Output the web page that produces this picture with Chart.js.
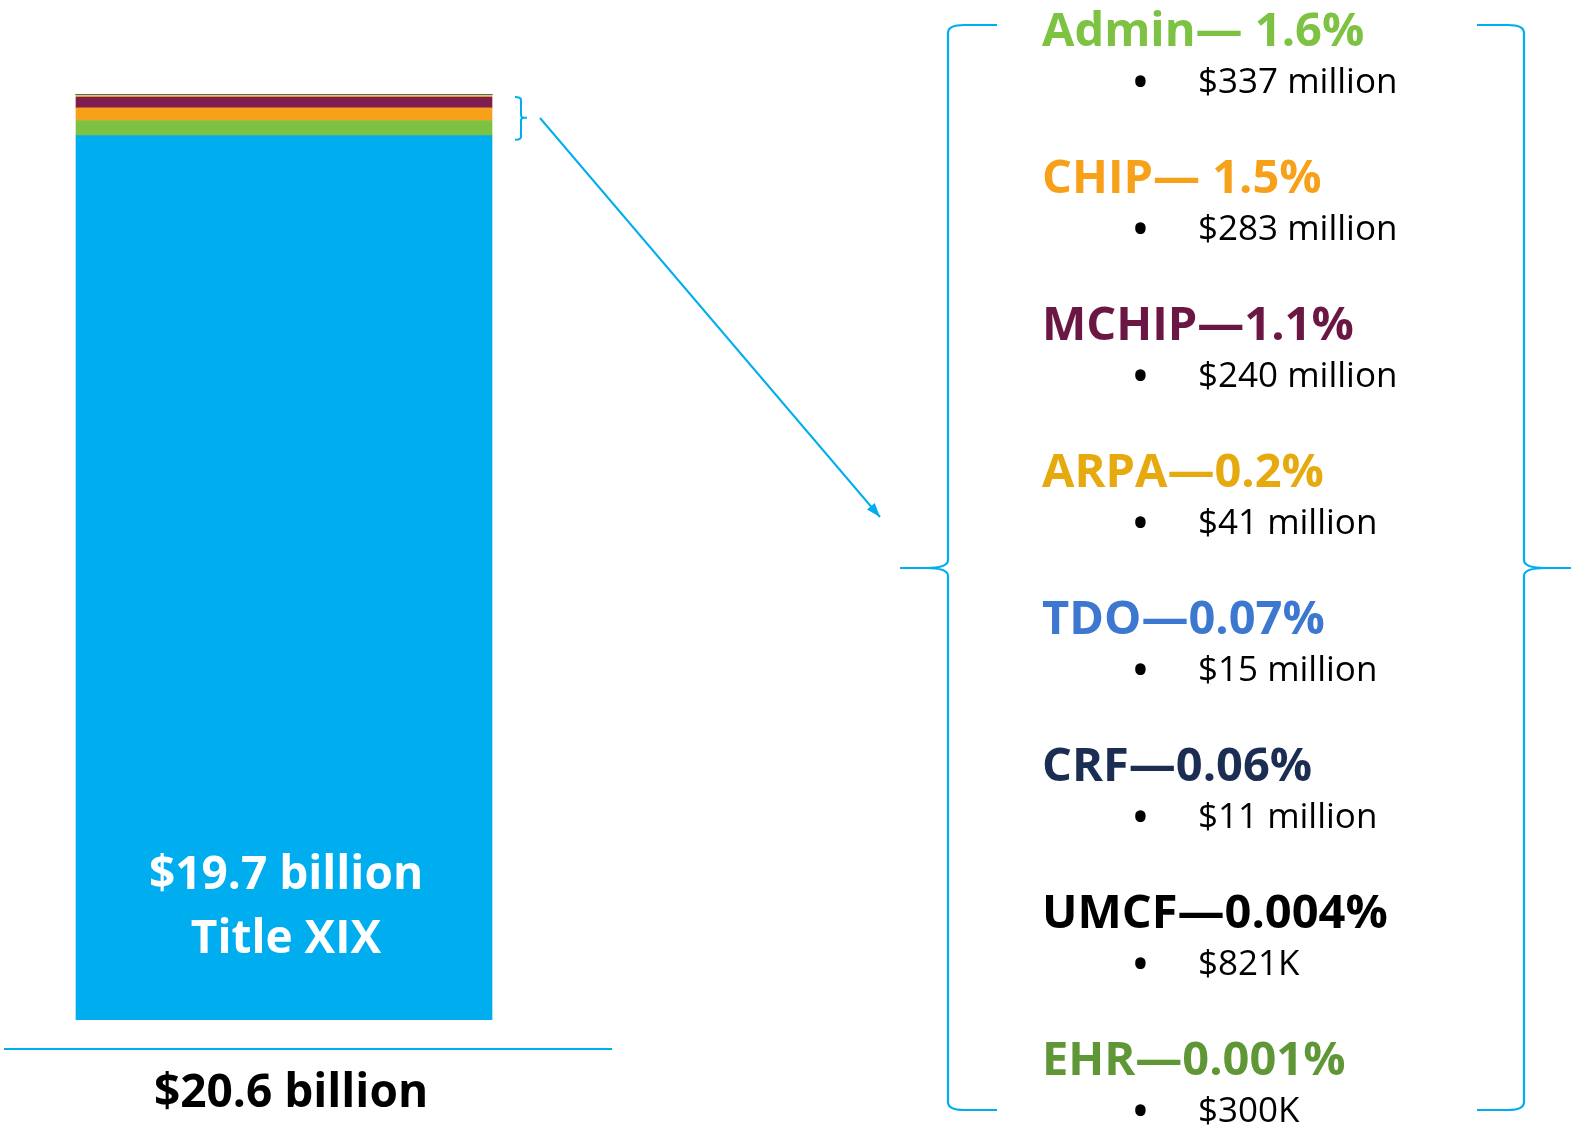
<!DOCTYPE html>
<html>
<head>
<meta charset="utf-8">
<script src="https://cdn.jsdelivr.net/npm/chart.js@4.4.1/dist/chart.umd.min.js"></script>
<style>
  html, body { margin: 0; padding: 0; background: #fff; overflow: hidden; }
  #wrap { position: relative; width: 1575px; height: 1132px; }
  #chart { position: absolute; left: 0; top: 0; }
  .head, .amt, .dot { position: absolute; font-family: "Open Sans", sans-serif; line-height: 1; white-space: pre; }
  .head { font-weight: 700; font-size: 47px; }
  .amt { font-weight: 400; font-size: 35px; color: #000; }
  .dot { font-weight: 400; font-size: 50px; color: #000; }
</style>
</head>
<body>
<div id="wrap">
  <canvas id="chart" width="1575" height="1132"></canvas>
</div>
<script>
// funding sources, $ millions, bottom of the stack first
const categories = ["Total"];
const seriesNames = ["Title XIX", "Admin", "CHIP", "MCHIP", "ARPA", "TDO", "CRF", "UMCF", "EHR"];
const seriesValues = [19700, 337, 283, 240, 41, 15, 11, 0.821, 0.3];
const barColors = ["#00AEEF", "#7DC243", "#F9A01B", "#7F1D51", "#FDC52A", "#3C78D0", "#1C3557", "#000000", "#5F9636"];
const headings = ["Admin\u2014 1.6%", "CHIP\u2014 1.5%", "MCHIP\u20141.1%", "ARPA\u20140.2%", "TDO\u20140.07%", "CRF\u20140.06%", "UMCF\u20140.004%", "EHR\u20140.001%"];
const headingColors = ["#7DC243", "#F7A11B", "#6A1843", "#E6A90E", "#3C78D0", "#1B2D52", "#000000", "#5F9636"];
const amounts = ["$337 million", "$283 million", "$240 million", "$41 million", "$15 million", "$11 million", "$821K", "$300K"];
const barLabel = ["$19.7 billion", "Title XIX"];
const totalLabel = "$20.6 billion";

const BLUE = "#00AEEF";
const total = seriesValues.reduce((a, b) => a + b, 0);

// right-hand list as real text
const wrap = document.getElementById("wrap");
function addText(cls, left, top, txt, color) {
  const d = document.createElement("div");
  d.className = cls;
  d.style.left = left + "px";
  d.style.top = top + "px";
  if (color) d.style.color = color;
  d.textContent = txt;
  wrap.appendChild(d);
}
headings.forEach((h, i) => {
  const cy = 30 + i * 147;
  addText("head", 1042, cy - 0.53 * 47, h, headingColors[i]);
  addText("dot", 1131, cy + 51 - 0.53 * 50, "\u2022");
  addText("amt", 1198, cy + 51 - 0.53 * 35, amounts[i]);
});

function brace(ctx, xv, top, bottom, mid, dir, hook, tip, r) {
  // dir = -1 tip points left, +1 tip points right
  const s = -dir;
  ctx.beginPath();
  ctx.moveTo(xv + s * hook, top);
  ctx.lineTo(xv + s * r * 2, top);
  ctx.quadraticCurveTo(xv, top, xv, top + r);
  ctx.lineTo(xv, mid - r);
  ctx.quadraticCurveTo(xv, mid, xv + dir * tip * 0.45, mid);
  ctx.lineTo(xv + dir * tip, mid);
  ctx.moveTo(xv + dir * tip * 0.45, mid);
  ctx.quadraticCurveTo(xv, mid, xv, mid + r);
  ctx.lineTo(xv, bottom - r);
  ctx.quadraticCurveTo(xv, bottom, xv + s * r * 2, bottom);
  ctx.lineTo(xv + s * hook, bottom);
  ctx.stroke();
}

const decor = {
  id: "decor",
  afterDatasetsDraw(chart) {
    const ctx = chart.ctx;
    const base = chart.getDatasetMeta(0).data[0];
    const topEl = chart.getDatasetMeta(seriesValues.length - 1).data[0];
    const half = base.width / 2;
    const bottom = base.base;
    ctx.save();

    ctx.fillStyle = "#fff";
    ctx.textAlign = "center";
    ctx.textBaseline = "alphabetic";
    ctx.font = "700 46px 'Open Sans'";
    ctx.fillText(barLabel[0], base.x + 2, bottom - 147 + 16);
    ctx.fillText(barLabel[1], base.x + 2, bottom - 83 + 16);

    ctx.strokeStyle = BLUE;
    ctx.lineWidth = 2;
    ctx.beginPath();
    ctx.moveTo(4, bottom + 29);
    ctx.lineTo(base.x + half + 120, bottom + 29);
    ctx.stroke();

    ctx.fillStyle = "#000";
    ctx.fillText(totalLabel, base.x + 7, bottom + 71 + 16);

    // small brace on the thin slices
    brace(ctx, base.x + half + 29, topEl.y + 3, base.y + 4, (topEl.y + base.y) / 2 + 3, 1, 5, 6, 3);

    // arrow
    const ax0 = base.x + half + 48, ay0 = 118, ax1 = 880, ay1 = 517;
    ctx.beginPath();
    ctx.moveTo(ax0, ay0);
    ctx.lineTo(ax1, ay1);
    ctx.stroke();
    const ang = Math.atan2(ay1 - ay0, ax1 - ax0);
    ctx.fillStyle = BLUE;
    ctx.beginPath();
    ctx.moveTo(ax1, ay1);
    ctx.lineTo(ax1 - 15 * Math.cos(ang - 0.35), ay1 - 15 * Math.sin(ang - 0.35));
    ctx.lineTo(ax1 - 15 * Math.cos(ang + 0.35), ay1 - 15 * Math.sin(ang + 0.35));
    ctx.closePath();
    ctx.fill();

    // big braces
    ctx.lineWidth = 2.2;
    brace(ctx, 948, 25, 1110, 568, -1, 49, 48, 8);
    brace(ctx, 1524, 25, 1110, 568, 1, 47, 47, 8);
    ctx.restore();
  }
};

new Chart(document.getElementById("chart"), {
  type: "bar",
  data: {
    labels: categories,
    datasets: seriesNames.map((name, i) => ({
      label: name,
      data: [seriesValues[i]],
      backgroundColor: barColors[i],
      borderWidth: 0,
      barThickness: 416,
      stack: "s"
    }))
  },
  options: {
    responsive: false,
    animation: false,
    layout: { padding: { left: 0, right: 1007, top: 94, bottom: 112 } },
    plugins: { legend: { display: false }, tooltip: { enabled: false } },
    scales: {
      x: { stacked: true, display: false },
      y: { stacked: true, display: false, min: 0, max: total }
    }
  },
  plugins: [decor]
});
</script>
</body>
</html>
